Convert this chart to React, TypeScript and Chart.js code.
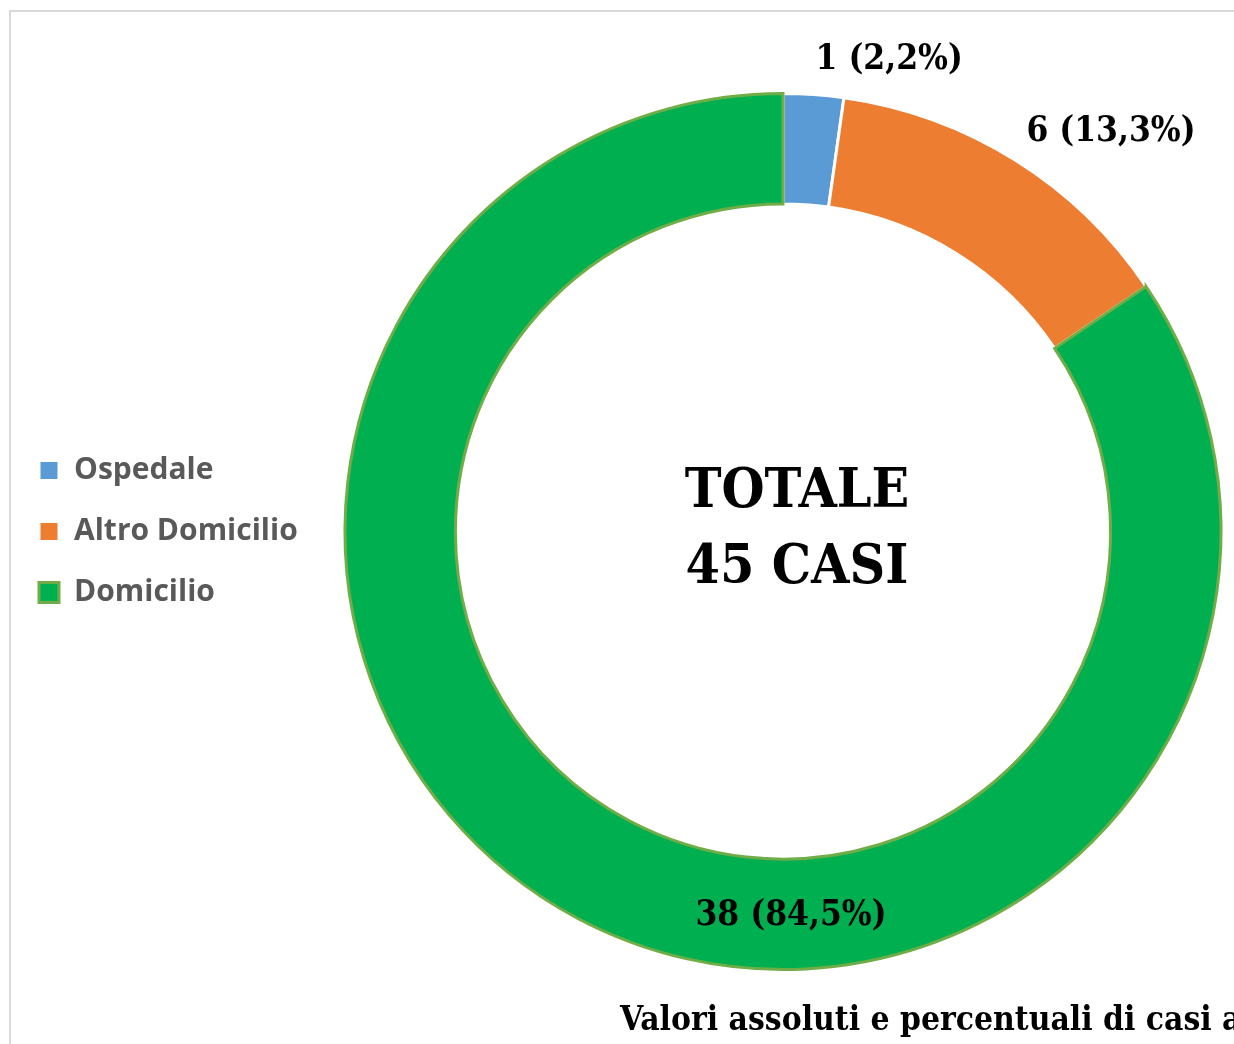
import React, { useEffect, useRef } from 'react';
import { Chart, registerables } from 'chart.js';

Chart.register(...registerables);

const CATEGORIES = ['Ospedale', 'Altro Domicilio', 'Domicilio'];
const VALUES = [1, 6, 38];
const PERCENT_LABELS = ['2,2%', '13,3%', '84,5%'];
const FILL_COLORS = ['#5B9BD5', '#ED7D31', '#00B050'];
const BORDER_COLORS = ['#FFFFFF', '#FFFFFF', '#70AD47'];
const CENTER_LINES = ['TOTALE', '45 CASI'];
const CAPTION = 'Valori assoluti e percentuali di casi a';

const SERIF = '"DejaVu Serif Condensed", "DejaVu Serif", serif';
const SANS = '"Open Sans", Lato, sans-serif';

// label placement relative to each arc: angle offset from mid-angle (deg), radius factor
const LABEL_PLACE = [
  { da: 8.7, rf: 1.103 },
  { da: 7.4, rf: 1.18 },
  { da: -29.2, rf: 0.878 },
];

export default function App() {
  const ref = useRef<HTMLCanvasElement | null>(null);

  useEffect(() => {
    const canvas = ref.current;
    if (!canvas) return;

    const legendWidthPlugin = {
      id: 'legendWidth',
      beforeInit(chart: any) {
        const lg = chart.legend;
        if (!lg) return;
        const orig = lg.fit.bind(lg);
        lg.fit = function () {
          orig();
          if (!this.isHorizontal()) this.width = 335;
        };
      },
    };

    const framePlugin = {
      id: 'frame',
      beforeDraw(chart: any) {
        const ctx = chart.ctx;
        ctx.save();
        ctx.strokeStyle = '#D9D9D9';
        ctx.lineWidth = 2;
        ctx.strokeRect(10, 11, 1400, 1200);
        ctx.restore();
      },
    };

    const labelsPlugin = {
      id: 'labels',
      afterDraw(chart: any) {
        const ctx = chart.ctx;
        const meta = chart.getDatasetMeta(0);
        ctx.save();
        ctx.fillStyle = '#000000';
        ctx.textAlign = 'center';
        ctx.textBaseline = 'middle';
        ctx.font = `bold 35px ${SERIF}`;
        meta.data.forEach((arc: any, i: number) => {
          const p = arc.getProps(['x', 'y', 'startAngle', 'endAngle', 'outerRadius'], true);
          const mid = (p.startAngle + p.endAngle) / 2 + (LABEL_PLACE[i].da * Math.PI) / 180;
          const r = p.outerRadius * LABEL_PLACE[i].rf;
          const x = p.x + Math.cos(mid) * r;
          const y = p.y + Math.sin(mid) * r;
          ctx.fillText(`${VALUES[i]} (${PERCENT_LABELS[i]})`, x, y);
        });
        const a0 = meta.data[0];
        const cx = a0.x + 14;
        const cy = a0.y;
        ctx.font = `bold 55px ${SERIF}`;
        ctx.fillText(CENTER_LINES[0], cx, cy - 39);
        ctx.fillText(CENTER_LINES[1], cx, cy + 37);
        ctx.textAlign = 'left';
        ctx.font = `bold 33.3px ${SERIF}`;
        ctx.fillText(CAPTION, 620, 1021);
        ctx.restore();
      },
    };

    const chart = new Chart(canvas, {
      type: 'doughnut',
      data: {
        labels: CATEGORIES,
        datasets: [
          {
            data: VALUES,
            backgroundColor: FILL_COLORS,
            borderColor: BORDER_COLORS,
            borderWidth: 3,
            borderJoinStyle: 'miter',
          } as any,
        ],
      },
      options: {
        responsive: false,
        animation: false,
        cutout: '74.8%',
        layout: { padding: { left: 8, right: 11, top: 92, bottom: 73 } },
        plugins: {
          tooltip: { enabled: false },
          legend: {
            position: 'left',
            align: 'center',
            labels: {
              boxWidth: 20,
              boxHeight: 20,
              padding: 31,
              color: '#595959',
              font: { family: SANS, size: 30, weight: 'bold' },
            },
          },
        },
      } as any,
      plugins: [legendWidthPlugin, framePlugin, labelsPlugin],
    });

    return () => chart.destroy();
  }, []);

  return (
    <div style={{ position: 'absolute', left: 0, top: 0, width: 1234, height: 1044, background: '#FFFFFF' }}>
      <canvas ref={ref} width={1234} height={1044} style={{ display: 'block' }} />
    </div>
  );
}
